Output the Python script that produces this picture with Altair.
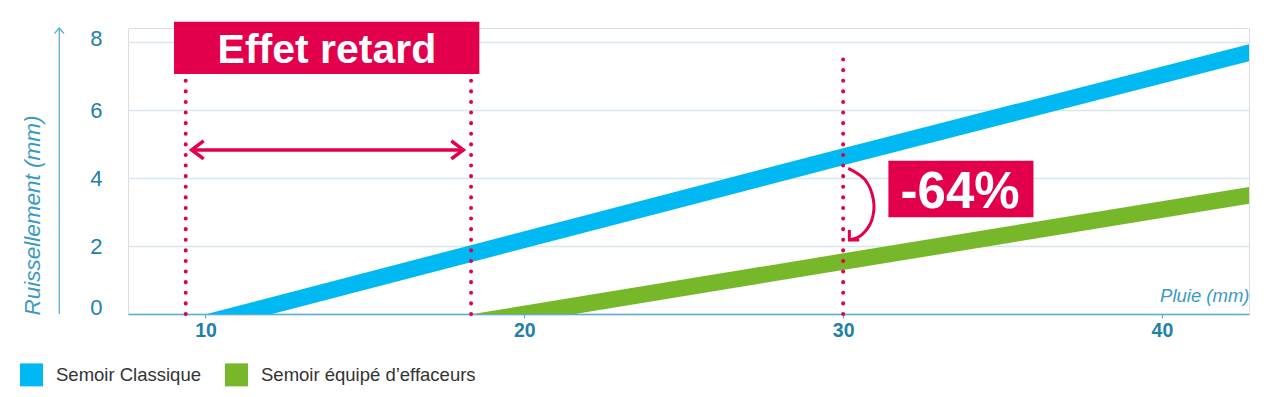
import altair as alt
import pandas as pd

FONT = "Liberation Sans"
BLUE = "#00b9f2"
GREEN = "#76b82a"
RED = "#e2004c"
AXIS = "#5aaed6"
LABEL = "#1f80aa"
TITLE = "#3a9ac4"
GRID = "#d9e6ef"

series_names = ["Semoir Classique", "Semoir équipé d\u2019effaceurs"]

# line series (extended past the axes and clipped)
blue_x = [8.0, 30.0, 44.0]
blue_y = [-0.75, 4.63, 8.0]
green_x = [17.0, 30.0, 44.0]
green_y = [-0.46, 1.54, 3.69]

# dotted reference lines
vline_x = [9.38, 18.33, 30.0]
vline_top = [6.92, 6.92, 7.54]

# "effet retard" double arrow
arrow_x1 = [9.567]
arrow_x2 = [18.087]
arrow_y = [4.83]

# curved arrow (-64%)
curve_x = [30.16, 30.69, 30.95, 30.90, 30.58, 30.195]
curve_y = [4.29, 3.95, 3.36, 2.77, 2.33, 2.18]

# label boxes
box_x1 = [9.013, 31.42]
box_x2 = [18.59, 35.97]
box_y1 = [7.067, 2.847]
box_y2 = [8.607, 4.514]
box_text = ["Effet retard", "-64%"]
box_tx = [13.81, 33.67]
box_ty = [7.382, 3.112]
box_fs = [41, 51]

x_ticks = [10, 20, 30, 40]
y_ticks = [0, 2, 4, 6, 8]

lines_df = pd.DataFrame({
    "x": blue_x + green_x,
    "y": blue_y + green_y,
    "serie": [series_names[0]] * len(blue_x) + [series_names[1]] * len(green_x),
})
vl_df = pd.DataFrame({"x": vline_x, "y": [0.0] * 3, "y2": vline_top})
arr_df = pd.DataFrame({"x": arrow_x1, "x2": arrow_x2, "y": arrow_y})
heads_df = pd.DataFrame({
    "x": [arrow_x1[0], arrow_x2[0]],
    "y": [arrow_y[0], arrow_y[0]],
    "side": ["l", "r"],
})
curve_df = pd.DataFrame({"x": curve_x, "y": curve_y, "i": list(range(len(curve_x)))})
curve_head = pd.DataFrame({"x": [curve_x[-1]], "y": [curve_y[-1]]})
box_df = pd.DataFrame({"x": box_x1, "x2": box_x2, "y": box_y1, "y2": box_y2,
                       "t": box_text, "tx": box_tx, "ty": box_ty, "fs": box_fs})

W, H = 1121, 286

xs = alt.Scale(domain=[7.57, 42.73], nice=False, zero=False)
ys = alt.Scale(domain=[0, 8.42], nice=False, zero=False)
cs = alt.Scale(domain=series_names, range=[BLUE, GREEN])

xaxis = alt.Axis(
    values=x_ticks, grid=False, domainColor=AXIS, domainWidth=1.5,
    tickColor=AXIS, tickSize=4, tickWidth=1.2,
    labelFont=FONT, labelFontSize=19.5, labelFontWeight="bold", labelColor=LABEL,
    labelPadding=3.8,
    title="Pluie (mm)", titleFont=FONT, titleFontSize=18.5, titleFontStyle="italic",
    titleFontWeight="normal", titleColor=TITLE, titleX=W, titleY=-12.3,
    titleAlign="right", titleBaseline="alphabetic",
)
yaxis = alt.Axis(
    values=y_ticks, grid=True, gridColor=GRID, gridWidth=1.5, domain=False, ticks=False,
    labelFont=FONT, labelFontSize=22, labelColor=LABEL, labelPadding=26,
    labelBaseline={"condition": {"test": "datum.value == 0", "value": "alphabetic"}, "value": "middle"},
    labelOffset={"condition": {"test": "datum.value == 8", "value": -4}, "value": 0},
    title="Ruissellement (mm)", titleFont=FONT, titleFontSize=22.5, titleFontStyle="italic",
    titleFontWeight="normal", titleColor=TITLE, titleX=-84, titleY=287, titleAngle=270,
    titleAlign="left", titleBaseline="bottom",
)

X = lambda f="x": alt.X(f"{f}:Q", scale=xs, axis=xaxis)
Y = lambda f="y": alt.Y(f"{f}:Q", scale=ys, axis=yaxis)

lines = alt.Chart(lines_df).mark_trail(clip=True).encode(
    x=X(), y=Y(),
    size=alt.value(16.5),
    color=alt.Color("serie:N", scale=cs,
                    legend=alt.Legend(
                        orient="none", legendX=-108, legendY=335, direction="horizontal",
                        title=None, symbolType="square", symbolSize=132,
                        symbolStrokeWidth=11.5, symbolOpacity=1, labelLimit=0,
                        labelFont=FONT, labelFontSize=18.5, labelColor="#333333",
                        labelOffset=13, columnPadding=6, padding=0)),
    detail="serie:N",
)

vlines = alt.Chart(vl_df).mark_rule(
    color=RED, strokeWidth=4, strokeDash=[0.1, 10.5], strokeCap="round"
).encode(x=X(), y=Y(), y2="y2:Q")

shaft = alt.Chart(arr_df).mark_rule(color=RED, strokeWidth=3.5).encode(
    x=X(), x2="x2:Q", y=Y())

head_l = alt.Chart(heads_df).transform_filter("datum.side == 'l'").mark_point(
    shape="M 1 -0.75 L 0 0 L 1 0.75", filled=False, stroke=RED, strokeWidth=3.5,
    size=576, opacity=1, strokeJoin="miter").encode(x=X(), y=Y())
head_r = alt.Chart(heads_df).transform_filter("datum.side == 'r'").mark_point(
    shape="M -1 -0.75 L 0 0 L -1 0.75", filled=False, stroke=RED, strokeWidth=3.5,
    size=576, opacity=1, strokeJoin="miter").encode(x=X(), y=Y())

curve = alt.Chart(curve_df).mark_line(color=RED, strokeWidth=3, interpolate="cardinal").encode(
    x=X(), y=Y(), order="i:Q")
curve_tip = alt.Chart(curve_head).mark_point(
    shape="M -1 -1 L 0 0 L 1 -1", filled=False, stroke=RED, strokeWidth=3,
    size=196, angle=45, opacity=1).encode(x=X(), y=Y())

boxes = alt.Chart(box_df).mark_rect(color=RED).encode(x=X(), x2="x2:Q", y=Y(), y2="y2:Q")
texts = alt.Chart(box_df).mark_text(
    font=FONT, fontWeight="bold", color="white", baseline="alphabetic", align="center"
).encode(x=X("tx"), y=Y("ty"), text="t:N", size=alt.Size("fs:Q", scale=None, legend=None))

one = pd.DataFrame({"a": [0]})
yarrow_line = alt.Chart(one).mark_rule(color=AXIS, strokeWidth=1.3).encode(
    x=alt.value(-68.7), y=alt.value(0), y2=alt.value(H))
yarrow_head = alt.Chart(one).mark_point(
    shape="M -0.85 1 L 0 0 L 0.85 1", filled=False, stroke=AXIS, strokeWidth=1.3,
    size=121, opacity=1).encode(x=alt.value(-68.7), y=alt.value(0))

chart = alt.layer(
    lines, vlines, shaft, head_l, head_r, curve, curve_tip, boxes, texts,
    yarrow_line, yarrow_head,
).properties(
    width=W, height=H,
    autosize=alt.AutoSizeParams(type="none"),
    padding={"left": 120, "top": 20, "right": 16, "bottom": 75},
).configure_view(stroke=None).configure(font=FONT)

chart.save("out.html", embed_options={"renderer": "svg", "actions": False})
